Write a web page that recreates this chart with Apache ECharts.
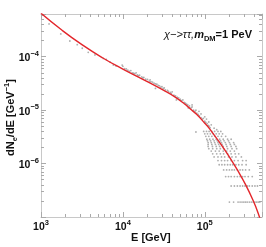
<!DOCTYPE html>
<html><head><meta charset="utf-8">
<script src="https://cdn.jsdelivr.net/npm/echarts@6/dist/echarts.min.js"></script>
<style>html,body{margin:0;padding:0;background:#fff}#c{width:266px;height:247px}</style>
</head><body><div id="c"></div>
<script>
// Fit curve (E [GeV], dN/dE)
const curveE = [1000, 1778, 3162, 5623, 10000, 17783, 31623, 42170, 56234, 66834, 79433, 100000, 112202, 125893, 158489, 199526, 251189, 316228, 398107, 446684, 501187];
const curveY = [6.52e-4, 3.19e-4, 1.68e-4, 9.57e-5, 5.87e-5, 3.73e-5, 2.34e-5, 1.81e-5, 1.317e-5, 1.05e-5, 8.34e-6, 5.70e-6, 4.66e-6, 3.68e-6, 2.27e-6, 1.336e-6, 7.51e-7, 3.99e-7, 1.887e-7, 1.198e-7, 7.01e-8];

// Scattered MC points
const lowPts = [[1254,4.1e-4],[1745,2.67e-4],[2250,1.97e-4],[2770,1.68e-4],[3190,1.44e-4],[3775,1.21e-4],[4560,1.08e-4],
  [5770,9.3e-5],[6270,8.9e-5],[7000,7.9e-5],[7650,7.0e-5],[8250,6.7e-5],[9800,6.98e-5]];
const midPts = [[1.0e4,6.6e-5],[1.05e4,6.0e-5],[1.1e4,5.9e-5],[1.15e4,5.6e-5],[1.2e4,5.3e-5],[1.25e4,5.5e-5],[1.3e4,5.0e-5],
  [1.35e4,4.9e-5],[1.4e4,4.8e-5],[1.45e4,5.0e-5],[1.5e4,4.55e-5],[1.55e4,4.4e-5],[1.6e4,4.5e-5],[1.7e4,4.2e-5],
  [1.75e4,4.0e-5],[1.8e4,4.1e-5],[1.9e4,3.8e-5],[2.0e4,3.75e-5],[2.1e4,3.5e-5],[2.15e4,3.7e-5],[2.2e4,3.4e-5],
  [2.3e4,3.35e-5],[2.4e4,3.2e-5],[2.5e4,3.1e-5],[2.5e4,2.55e-5],[2.6e4,3.05e-5],[2.7e4,2.9e-5],[2.8e4,2.85e-5],
  [2.9e4,2.7e-5],[3.0e4,2.75e-5],[3.1e4,2.55e-5],[3.2e4,2.6e-5],[3.3e4,2.4e-5],[3.5e4,2.35e-5],[3.6e4,2.25e-5],
  [3.8e4,2.15e-5],[3.9e4,2.05e-5],[4.0e4,2.2e-5],[4.2e4,1.9e-5],[4.4e4,1.85e-5],[4.5e4,1.55e-5],[4.6e4,1.75e-5],
  [4.8e4,1.7e-5],[5.0e4,1.6e-5],[5.2e4,1.5e-5],[5.4e4,1.55e-5],[5.6e4,1.4e-5],[5.8e4,1.35e-5],[6.0e4,1.3e-5],
  [6.2e4,1.25e-5],[6.3e4,1.1e-5],[6.5e4,1.2e-5],[6.8e4,1.1e-5],[7.0e4,1.15e-5],[7.0e4,1.25e-5],[7.3e4,1.0e-5],[7.6e4,9.5e-6],
  [7.8e4,1.0e-5],[7.8e4,3.9e-6],[8.0e4,8.8e-6],[8.3e4,8.3e-6],[8.5e4,9.5e-6],[8.6e4,7.8e-6],[9.0e4,7.2e-6],[9.0e4,8.5e-6],[9.3e4,6.8e-6],
  [9.6e4,7.0e-6],[1.0e5,6.2e-6],[1.0e5,7.5e-6],[1.03e5,5.9e-6],[1.05e5,6.8e-6],[1.07e5,5.6e-6],[1.1e5,5.2e-6],[1.12e5,6.0e-6],
  [1.13e5,5.0e-6],[1.16e5,4.7e-6],[1.2e5,5.3e-6],[1.3e5,4.6e-6],[1.4e5,4.3e-6]];
// Quantised rows at high energy: [level, energies]
const tailRows = [
  [4.0e-6, [9.7e4,1.05e5,1.13e5,1.22e5,1.32e5,1.45e5,1.57e5]],
  [3.61e-6, [1.0e5,1.08e5,1.17e5,1.27e5,1.38e5,1.5e5,1.65e5]],
  [3.23e-6, [1.03e5,1.12e5,1.22e5,1.33e5,1.45e5,1.6e5,1.8e5]],
  [2.85e-6, [1.06e5,1.15e5,1.26e5,1.38e5,1.52e5,1.68e5,1.9e5,2.1e5]],
  [2.66e-6, [1.08e5,1.18e5,1.3e5,1.42e5,1.56e5,1.72e5,1.95e5]],
  [2.47e-6, [1.1e5,1.2e5,1.32e5,1.45e5,1.6e5,1.78e5,2.0e5,2.25e5]],
  [2.28e-6, [1.1e5,1.22e5,1.35e5,1.48e5,1.63e5,1.82e5,2.05e5,2.3e5]],
  [2.09e-6, [1.1e5,1.24e5,1.38e5,1.52e5,1.68e5,1.86e5,2.1e5,2.4e5]],
  [1.9e-6, [1.12e5,1.25e5,1.4e5,1.55e5,1.7e5,1.9e5,2.15e5,2.45e5]],
  [1.71e-6, [1.2e5,1.35e5,1.5e5,1.68e5,1.85e5,2.05e5,2.3e5]],
  [1.52e-6, [1.25e5,1.4e5,1.55e5,1.7e5,1.9e5,2.1e5,2.35e5,2.6e5]],
  [1.33e-6, [1.3e5,1.45e5,1.6e5,1.75e5,1.95e5,2.15e5,2.4e5,2.8e5]],
  [1.14e-6, [1.45e5,1.6e5,1.75e5,1.9e5,2.1e5,2.3e5,2.55e5,2.9e5,3.2e5]],
  [9.5e-7, [1.5e5,1.62e5,1.75e5,1.9e5,2.05e5,2.2e5,2.4e5,2.6e5,2.85e5,3.2e5]],
  [7.6e-7, [1.7e5,1.85e5,2.0e5,2.15e5,2.3e5,2.5e5,2.7e5,2.9e5,3.15e5,3.5e5]],
  [5.7e-7, [1.8e5,1.95e5,2.1e5,2.3e5,2.5e5,2.7e5,2.9e5,3.1e5,3.4e5,3.8e5]],
  [3.8e-7, [2.1e5,2.3e5,2.5e5,2.7e5,2.9e5,3.1e5,3.3e5,3.5e5,3.8e5,4.1e5,4.4e5]],
  [1.9e-7, [2.0e5,2.25e5,2.55e5,2.7e5,2.85e5,3.0e5,3.15e5,3.3e5,3.5e5,3.7e5,3.9e5,4.1e5,4.3e5,4.5e5,4.7e5]]
];

// Axis ranges & ticks
const xMin = 1000, xMax = 5e5, yMin = 1e-7, yMax = 6.3e-4;
const xMinorTicks = [2000,3000,4000,5000,6000,7000,8000,9000,20000,30000,40000,50000,60000,70000,80000,90000,200000,300000,400000];
const yMinorTicks = [2e-7,3e-7,4e-7,5e-7,6e-7,7e-7,8e-7,9e-7,2e-6,3e-6,4e-6,5e-6,6e-6,7e-6,8e-6,9e-6,2e-5,3e-5,4e-5,5e-5,6e-5,7e-5,8e-5,9e-5,2e-4,3e-4,4e-4,5e-4,6e-4];
const hiddenExp = [-7];

const scatterData = lowPts.concat(midPts);
tailRows.forEach(r => r[1].forEach(e => scatterData.push([e, r[0]])));
const curveData = curveE.map((e, i) => [e, curveY[i]]);

const FONT = 'Liberation Sans, Arial, sans-serif';
const frameColor = '#c8c8c8', tickColor = '#aaaaaa';
const labelRich = {
  b: {fontFamily: FONT, fontWeight: 'bold', fontSize: 10.5, color: '#111', lineHeight: 14, verticalAlign: 'bottom'},
  s: {fontFamily: FONT, fontWeight: 'bold', fontSize: 7.5, color: '#111', lineHeight: 14, verticalAlign: 'top'}
};
function powFmt(v) {
  const l = Math.log10(v), e = Math.round(l);
  if (Math.abs(l - e) > 1e-6 || hiddenExp.includes(e)) return '';
  return '{b|10}{s|' + (e < 0 ? '\u2212' + (-e) : e) + '}';
}
function axisPair(kind, pos, min, max, minors, main) {
  const base = {type: 'log', logBase: 10, min, max, position: pos, splitLine: {show: false}, scale: true};
  const major = Object.assign({}, base, {
    axisLine: {show: true, onZero: false, lineStyle: {color: frameColor, width: 1}},
    axisTick: {show: true, inside: true, length: 5, lineStyle: {color: tickColor}},
    axisLabel: main ? {show: true, formatter: powFmt, rich: labelRich, margin: 2, hideOverlap: false, showMinLabel: true, showMaxLabel: true} : {show: false}
  });
  const minor = Object.assign({}, base, {
    axisLine: {show: false},
    axisTick: {show: true, inside: true, length: 3, customValues: minors, lineStyle: {color: tickColor}},
    axisLabel: {show: false}
  });
  return [major, minor];
}
const xAxes = axisPair('x', 'bottom', xMin, xMax, xMinorTicks, true).concat(axisPair('x', 'top', xMin, xMax, xMinorTicks, false));
const yAxes = axisPair('y', 'left', yMin, yMax, yMinorTicks, true).concat(axisPair('y', 'right', yMin, yMax, yMinorTicks, false));

const chart = echarts.init(document.getElementById('c'), null, {renderer: 'canvas'});
chart.setOption({
  animation: false,
  backgroundColor: '#fff',
  grid: {left: 41, right: 4, top: 14, bottom: 30, containLabel: false},
  xAxis: xAxes,
  yAxis: yAxes,
  series: [
    {type: 'scatter', xAxisIndex: 0, yAxisIndex: 0, data: scatterData, symbol: 'circle', symbolSize: 1.8,
     itemStyle: {color: '#9a9a9a'}, silent: true, z: 2},
    {type: 'line', xAxisIndex: 0, yAxisIndex: 0, data: curveData, smooth: true, showSymbol: false, symbol: 'none',
     lineStyle: {color: '#e3262b', width: 1.4}, clip: true, z: 3}
  ],
  graphic: [
    {type: 'text', left: 131, top: 232, style: {text: 'E [GeV]', font: 'bold 11px ' + FONT, fill: '#111'}},
    {type: 'text', x: 3, y: 156, rotation: Math.PI / 2, style: {
      text: '{b|dN}{sub|e}{b|/dE [GeV}{sup|\u22121}{b|]}',
      rich: {
        b: {fontFamily: FONT, fontWeight: 'bold', fontSize: 11, fill: '#111', lineHeight: 16, verticalAlign: 'middle'},
        sub: {fontFamily: FONT, fontWeight: 'bold', fontSize: 7.5, fill: '#111', lineHeight: 16, verticalAlign: 'bottom'},
        sup: {fontFamily: FONT, fontWeight: 'bold', fontSize: 7.5, fill: '#111', lineHeight: 16, verticalAlign: 'top'}
      }}},
    {type: 'text', left: 164, top: 29, style: {
      text: '{i|\u03c7\u2212>\u03c4\u03c4,}{m|m}{sub|DM}{b|=1 PeV}',
      rich: {
        i: {fontFamily: FONT, fontStyle: 'italic', fontSize: 11, fill: '#111', lineHeight: 16, verticalAlign: 'middle'},
        m: {fontFamily: FONT, fontStyle: 'italic', fontWeight: 'bold', fontSize: 11, fill: '#111', lineHeight: 16, verticalAlign: 'middle'},
        sub: {fontFamily: FONT, fontWeight: 'bold', fontSize: 7.5, fill: '#111', lineHeight: 16, verticalAlign: 'bottom'},
        b: {fontFamily: FONT, fontWeight: 'bold', fontSize: 11, fill: '#111', lineHeight: 16, verticalAlign: 'middle'}
      }}}
  ]
});
</script></body></html>
